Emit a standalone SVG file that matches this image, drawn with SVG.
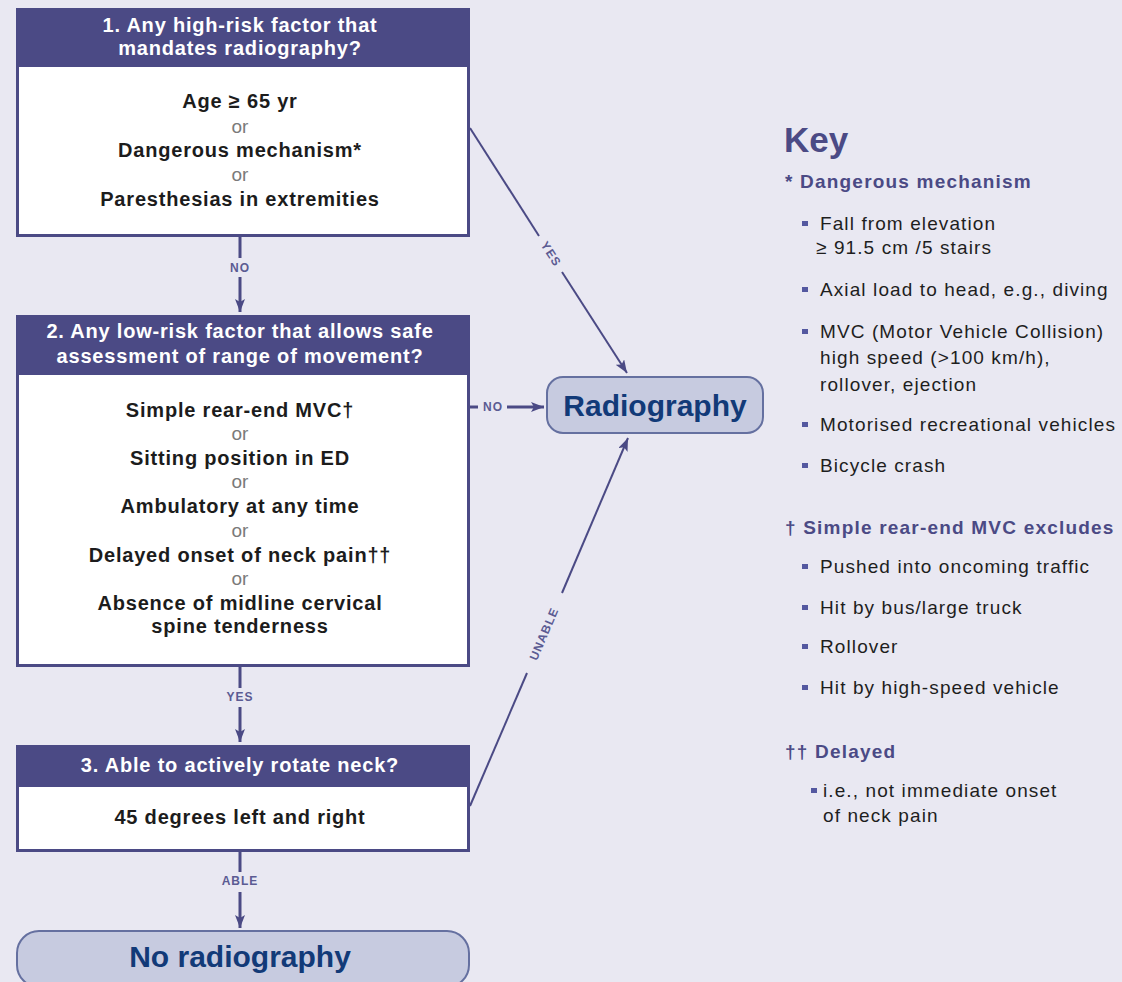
<svg xmlns="http://www.w3.org/2000/svg" width="1122" height="982" viewBox="0 0 1122 982">
<defs>
<marker id="arr" markerUnits="userSpaceOnUse" markerWidth="13" markerHeight="10" refX="13" refY="5" orient="auto">
<path d="M0,0 L13,5 L0,10 L3,5 Z" fill="#4b4a85"/>
</marker>
<style>
.hdr{fill:#4b4a85}
.frame{fill:#ffffff;stroke:#4b4a85;stroke-width:3}
.ht{font-family:"Liberation Sans",Arial,sans-serif;font-size:20px;font-weight:bold;fill:#ffffff;text-anchor:middle;letter-spacing:0.8px}
.bt{font-family:"Liberation Sans",Arial,sans-serif;font-size:20px;font-weight:bold;fill:#1c1c1c;text-anchor:middle;letter-spacing:0.8px}
.or{font-family:"Liberation Sans",Arial,sans-serif;font-size:19px;fill:#7a7a7a;text-anchor:middle}
.pill{fill:#c7cbe0;stroke:#6570a0;stroke-width:2}
.pt{font-family:"Liberation Sans",Arial,sans-serif;font-size:30px;font-weight:bold;fill:#123a78;text-anchor:middle}
.ln{stroke:#4b4a85;stroke-width:3;fill:none}
.dl{stroke:#4b4a85;stroke-width:2;fill:none}
.lab{font-family:"Liberation Sans",Arial,sans-serif;font-size:12px;font-weight:bold;fill:#5b5b93;text-anchor:middle;letter-spacing:1px}
.key{font-family:"Liberation Sans",Arial,sans-serif;font-size:35px;font-weight:bold;fill:#4b4a85}
.kh{font-family:"Liberation Sans",Arial,sans-serif;font-size:19px;font-weight:bold;fill:#4b4a85;letter-spacing:1.2px}
.ki{font-family:"Liberation Sans",Arial,sans-serif;font-size:19px;fill:#1e1e1e;letter-spacing:1.1px}
.bul{fill:#5458a0}
</style>
</defs>
<rect width="1122" height="982" fill="#e9e8f2"/>

<g id="node1">
<rect class="frame" x="17.5" y="9.5" width="451" height="226"/>
<rect class="hdr" x="16" y="8" width="454" height="59"/>
<text class="ht" x="240" y="32">1. Any high-risk factor that</text>
<text class="ht" x="240" y="55">mandates radiography?</text>
<text class="bt" x="240" y="108">Age ≥ 65 yr</text>
<text class="or" x="240" y="133">or</text>
<text class="bt" x="240" y="157">Dangerous mechanism*</text>
<text class="or" x="240" y="181">or</text>
<text class="bt" x="240" y="206">Paresthesias in extremities</text>
</g>

<g id="node2">
<rect class="frame" x="17.5" y="316.5" width="451" height="349"/>
<rect class="hdr" x="16" y="315" width="454" height="60"/>
<text class="ht" x="240" y="338">2. Any low-risk factor that allows safe</text>
<text class="ht" x="240" y="363">assessment of range of movement?</text>
<text class="bt" x="240" y="417">Simple rear-end MVC†</text>
<text class="or" x="240" y="440">or</text>
<text class="bt" x="240" y="465">Sitting position in ED</text>
<text class="or" x="240" y="488">or</text>
<text class="bt" x="240" y="513">Ambulatory at any time</text>
<text class="or" x="240" y="537">or</text>
<text class="bt" x="240" y="562">Delayed onset of neck pain††</text>
<text class="or" x="240" y="585">or</text>
<text class="bt" x="240" y="610">Absence of midline cervical</text>
<text class="bt" x="240" y="633">spine tenderness</text>
</g>

<g id="node3">
<rect class="frame" x="17.5" y="746.5" width="451" height="104"/>
<rect class="hdr" x="16" y="745" width="454" height="42"/>
<text class="ht" x="240" y="772">3. Able to actively rotate neck?</text>
<text class="bt" x="240" y="824">45 degrees left and right</text>
</g>

<g id="radiography">
<rect class="pill" x="547" y="377" width="216" height="56" rx="16"/>
<text class="pt" x="655" y="416">Radiography</text>
</g>

<g id="no-radiography">
<rect class="pill" x="17" y="931" width="452" height="56" rx="22"/>
<text class="pt" x="240" y="967">No radiography</text>
</g>

<g id="connectors">
<line class="ln" x1="240" y1="237" x2="240" y2="258"/>
<text class="lab" x="240" y="272">NO</text>
<line class="ln" x1="240" y1="277" x2="240" y2="312" marker-end="url(#arr)"/>

<line class="ln" x1="240" y1="667" x2="240" y2="688"/>
<text class="lab" x="240" y="701">YES</text>
<line class="ln" x1="240" y1="707" x2="240" y2="742" marker-end="url(#arr)"/>

<line class="ln" x1="240" y1="852" x2="240" y2="872"/>
<text class="lab" x="240" y="885">ABLE</text>
<line class="ln" x1="240" y1="892" x2="240" y2="928" marker-end="url(#arr)"/>

<line class="ln" x1="470" y1="407" x2="478" y2="407"/>
<text class="lab" x="493" y="411">NO</text>
<line class="ln" x1="507" y1="407" x2="544" y2="407" marker-end="url(#arr)"/>

<line class="dl" x1="470" y1="128" x2="539" y2="236"/>
<text class="lab" transform="translate(551,254) rotate(57.3)" x="0" y="4">YES</text>
<line class="dl" x1="562" y1="272" x2="627" y2="373" marker-end="url(#arr)"/>

<line class="dl" x1="470" y1="806" x2="527" y2="673"/>
<text class="lab" transform="translate(544,634) rotate(-66.8)" x="0" y="4">UNABLE</text>
<line class="dl" x1="562" y1="593" x2="628" y2="438" marker-end="url(#arr)"/>
</g>

<g id="key">
<text class="key" x="784" y="152">Key</text>
<text class="kh" x="785" y="188">* Dangerous mechanism</text>
<rect class="bul" x="802" y="221" width="6" height="5"/>
<text class="ki" x="820" y="230">Fall from elevation</text>
<text class="ki" x="816" y="254">≥ 91.5 cm /5 stairs</text>
<rect class="bul" x="802" y="287" width="6" height="5"/>
<text class="ki" x="820" y="296">Axial load to head, e.g., diving</text>
<rect class="bul" x="802" y="329" width="6" height="5"/>
<text class="ki" x="820" y="338">MVC (Motor Vehicle Collision)</text>
<text class="ki" x="820" y="364">high speed (&gt;100 km/h),</text>
<text class="ki" x="820" y="391">rollover, ejection</text>
<rect class="bul" x="802" y="422" width="6" height="5"/>
<text class="ki" x="820" y="431">Motorised recreational vehicles</text>
<rect class="bul" x="802" y="463" width="6" height="5"/>
<text class="ki" x="820" y="472">Bicycle crash</text>

<text class="kh" x="785" y="534">† Simple rear-end MVC excludes</text>
<rect class="bul" x="802" y="564" width="6" height="5"/>
<text class="ki" x="820" y="573">Pushed into oncoming traffic</text>
<rect class="bul" x="802" y="605" width="6" height="5"/>
<text class="ki" x="820" y="614">Hit by bus/large truck</text>
<rect class="bul" x="802" y="644" width="6" height="5"/>
<text class="ki" x="820" y="653">Rollover</text>
<rect class="bul" x="802" y="685" width="6" height="5"/>
<text class="ki" x="820" y="694">Hit by high-speed vehicle</text>

<text class="kh" x="785" y="758">†† Delayed</text>
<rect class="bul" x="811" y="788" width="6" height="5"/>
<text class="ki" x="823" y="797">i.e., not immediate onset</text>
<text class="ki" x="823" y="822">of neck pain</text>
</g>
</svg>
